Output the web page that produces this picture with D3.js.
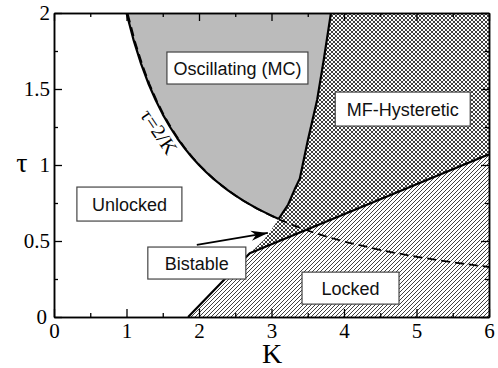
<!DOCTYPE html>
<html>
<head>
<meta charset="utf-8">
<script src="https://cdn.jsdelivr.net/npm/d3@7"></script>
<style>
  html, body { margin: 0; padding: 0; background: #fff; }
  svg { display: block; }
</style>
</head>
<body>
<svg id="chart" width="498" height="368"></svg>
<script>
// Phase diagram: regions in the (K, tau) plane.

// tau = 2/K boundary
const curveK   = [1.0, 1.1, 1.2, 1.3, 1.4, 1.5, 1.6, 1.7, 1.8, 1.9, 2.0, 2.1, 2.2, 2.3, 2.4, 2.5, 2.6, 2.7, 2.8, 2.9, 3.0, 3.1,
                  3.25, 3.5, 3.75, 4.0, 4.5, 5.0, 5.5, 6.0];
const curveTau = [2.0, 1.818, 1.667, 1.538, 1.429, 1.333, 1.25, 1.176, 1.111, 1.053, 1.0, 0.952, 0.909, 0.87, 0.833, 0.8, 0.769, 0.741, 0.714, 0.69, 0.667, 0.645,
                  0.615, 0.571, 0.533, 0.5, 0.444, 0.4, 0.364, 0.333];
const solidUpTo = 3.1;   // solid part of the tau=2/K line ends at the junction

// right edge of the oscillating (MC) region
const mcRightK   = [3.1, 3.23, 3.32, 3.39, 3.5, 3.63, 3.72, 3.82];
const mcRightTau = [0.645, 0.74, 0.84, 0.91, 1.16, 1.43, 1.69, 2.0];

// upper edge of the locked region
const lockedK   = [1.85, 2.7, 6.0];
const lockedTau = [0.0, 0.42, 1.07];

// left edge of the bistable pocket (unlocked side)
const bistK   = [3.1, 2.9, 2.7];
const bistTau = [0.645, 0.51, 0.42];

// arrow pointing at the bistable pocket
const arrowK   = [1.97, 2.95];
const arrowTau = [0.474, 0.553];

const regionNames = ["Oscillating (MC)", "MF-Hysteretic", "Unlocked", "Bistable", "Locked"];

const kTicks        = [0, 1, 2, 3, 4, 5, 6];
const kMinor        = [0.5, 1.5, 2.5, 3.5, 4.5, 5.5];
const tauTicks      = [0, 0.5, 1, 1.5, 2];
const tauTickLabels = ["0", "0.5", "1", "1.5", "2"];
const tauMinor      = [0.25, 0.75, 1.25, 1.75];

// label box layout (centre in data units, box size in px)
const labelLayout = [
  { k: 2.53, t: 1.638, w: 141, h: 32 },
  { k: 4.81, t: 1.368, w: 135, h: 34 },
  { k: 1.04, t: 0.743, w: 105, h: 34 },
  { k: 1.97, t: 0.355, w: 98,  h: 32 },
  { k: 4.09, t: 0.19,  w: 97,  h: 32 },
];

const serif = "'Liberation Serif', 'Times New Roman', serif";

const svg = d3.select("#chart");
const x = d3.scaleLinear().domain([0, 6]).range([54, 489]);
const y = d3.scaleLinear().domain([0, 2]).range([317, 13]);

const pts = (ks, ts) => ks.map((k, i) => [x(k), y(ts[i])]);

// patterns
const defs = svg.append("defs");
const cross = defs.append("pattern")
  .attr("id", "cross").attr("patternUnits", "userSpaceOnUse")
  .attr("width", 4).attr("height", 4);
cross.append("rect").attr("width", 4).attr("height", 4).attr("fill", "#fff");
cross.append("path")
  .attr("d", "M0,0L4,4M4,0L0,4M-1,1L1,-1M3,5L5,3M-1,3L1,5M3,-1L5,1")
  .attr("stroke", "#000").attr("stroke-width", 0.75);

const hatch = defs.append("pattern")
  .attr("id", "hatch").attr("patternUnits", "userSpaceOnUse")
  .attr("width", 4).attr("height", 4);
hatch.append("rect").attr("width", 4).attr("height", 4).attr("fill", "#fff");
hatch.append("path")
  .attr("d", "M-1,1L1,-1M0,4L4,0M3,5L5,3")
  .attr("stroke", "#000").attr("stroke-width", 0.75);

defs.append("clipPath").attr("id", "plot")
  .append("rect").attr("x", x(0)).attr("y", y(2))
  .attr("width", x(6) - x(0)).attr("height", y(0) - y(2));

const plot = svg.append("g").attr("clip-path", "url(#plot)");
const line = d3.line();

// locked region
const lockedPoly = pts(lockedK, lockedTau).concat([[x(6), y(0)]]);
plot.append("path").attr("d", line(lockedPoly) + "Z").attr("fill", "url(#hatch)");

// MF-hysteretic + bistable region
const hystPoly = [[x(3.82), y(2)], [x(6), y(2)]]
  .concat(pts(lockedK, lockedTau).slice(1).reverse())
  .concat(pts(bistK, bistTau).reverse())
  .concat(pts(mcRightK, mcRightTau).slice(1));
plot.append("path").attr("d", line(hystPoly) + "Z").attr("fill", "url(#cross)");

// oscillating (MC) region
const nSolid = curveK.filter(k => k <= solidUpTo).length;
const leftEdge = pts(curveK.slice(0, nSolid), curveTau.slice(0, nSolid));
const mcPoly = leftEdge.concat(pts(mcRightK, mcRightTau).slice(1));
plot.append("path").attr("d", line(mcPoly) + "Z").attr("fill", "#bbbbbb");

// boundaries
const lineStyle = sel => sel.attr("fill", "none").attr("stroke", "#000")
  .attr("stroke-linejoin", "round");
plot.append("path").attr("d", line(leftEdge)).call(lineStyle).attr("stroke-width", 2.2);
plot.append("path").attr("d", line(pts(curveK, curveTau)))
  .attr("transform", "translate(1.2,0.8)")
  .call(lineStyle).attr("stroke-width", 1.8).attr("stroke-dasharray", "9,5");
plot.append("path").attr("d", line(pts(mcRightK, mcRightTau))).call(lineStyle).attr("stroke-width", 2.2);
plot.append("path").attr("d", line(pts(lockedK, lockedTau))).call(lineStyle).attr("stroke-width", 2.2);

// axes with inward ticks on all four sides
const axes = svg.append("g");
function addAxis(gen, tr) {
  const g = axes.append("g").attr("transform", tr).call(gen).attr("font-family", serif);
  g.select(".domain").attr("stroke-width", 1.5);
  g.selectAll(".tick line").attr("stroke-width", 1.3);
  return g;
}
const noLab = () => "";
addAxis(d3.axisBottom(x).tickValues(kMinor).tickSize(-4).tickSizeOuter(0).tickFormat(noLab), `translate(0,${y(0)})`);
addAxis(d3.axisTop(x).tickValues(kMinor).tickSize(-4).tickSizeOuter(0).tickFormat(noLab), `translate(0,${y(2)})`);
addAxis(d3.axisTop(x).tickValues(kTicks).tickSize(-8).tickSizeOuter(0).tickFormat(noLab), `translate(0,${y(2)})`);
addAxis(d3.axisLeft(y).tickValues(tauMinor).tickSize(-4).tickSizeOuter(0).tickFormat(noLab), `translate(${x(0)},0)`);
addAxis(d3.axisRight(y).tickValues(tauMinor).tickSize(-4).tickSizeOuter(0).tickFormat(noLab), `translate(${x(6)},0)`);
addAxis(d3.axisRight(y).tickValues(tauTicks).tickSize(-8).tickSizeOuter(0).tickFormat(noLab), `translate(${x(6)},0)`);

const xAx = addAxis(d3.axisBottom(x).tickValues(kTicks).tickSize(-8).tickSizeOuter(0).tickPadding(6)
  .tickFormat(d3.format("d")), `translate(0,${y(0)})`);
xAx.selectAll("text").attr("font-size", 21).attr("fill", "#000");

const yAx = addAxis(d3.axisLeft(y).tickValues(tauTicks).tickSize(-8).tickSizeOuter(0).tickPadding(4)
  .tickFormat((d, i) => tauTickLabels[i]), `translate(${x(0)},0)`);
yAx.selectAll("text").attr("font-size", 21).attr("fill", "#000")
  .attr("dx", d => d === 0 ? -3 : 0);

axes.append("text").attr("x", 272).attr("y", 363).attr("text-anchor", "middle")
  .attr("font-family", serif).attr("font-size", 28).text("K");
axes.append("text").attr("x", 22).attr("y", 172).attr("text-anchor", "middle")
  .attr("font-family", serif).attr("font-size", 28).text("τ");

// tau = 2/K label
svg.append("text")
  .attr("transform", `translate(${x(1.45)},${y(1.22)}) rotate(56)`)
  .attr("text-anchor", "middle").attr("dy", "0.35em")
  .attr("font-family", serif).attr("font-size", 20)
  .text("τ=2/K");

// arrow to bistable pocket
defs.append("marker").attr("id", "head")
  .attr("markerUnits", "userSpaceOnUse").attr("viewBox", "-18 -6 19 12")
  .attr("refX", 0).attr("refY", 0).attr("markerWidth", 19).attr("markerHeight", 12)
  .attr("orient", "auto")
  .append("path").attr("d", "M-17,-5L0,0L-17,5L-12,0Z").attr("fill", "#000");
svg.append("path").attr("d", line(pts(arrowK, arrowTau)))
  .attr("stroke", "#000").attr("stroke-width", 1.8).attr("fill", "none")
  .attr("marker-end", "url(#head)");

// region label boxes
const boxes = svg.append("g").selectAll("g").data(regionNames).join("g")
  .attr("transform", (d, i) => `translate(${x(labelLayout[i].k)},${y(labelLayout[i].t)})`);
boxes.append("rect")
  .attr("x", (d, i) => -labelLayout[i].w / 2).attr("y", (d, i) => -labelLayout[i].h / 2)
  .attr("width", (d, i) => labelLayout[i].w).attr("height", (d, i) => labelLayout[i].h)
  .attr("fill", "#fff").attr("stroke", "#444").attr("stroke-width", 1.2);
boxes.append("text")
  .attr("text-anchor", "middle").attr("y", 6.5)
  .attr("font-family", "'Liberation Sans', Arial, sans-serif").attr("font-size", 18)
  .attr("fill", "#111")
  .text(d => d);
</script>
</body>
</html>
